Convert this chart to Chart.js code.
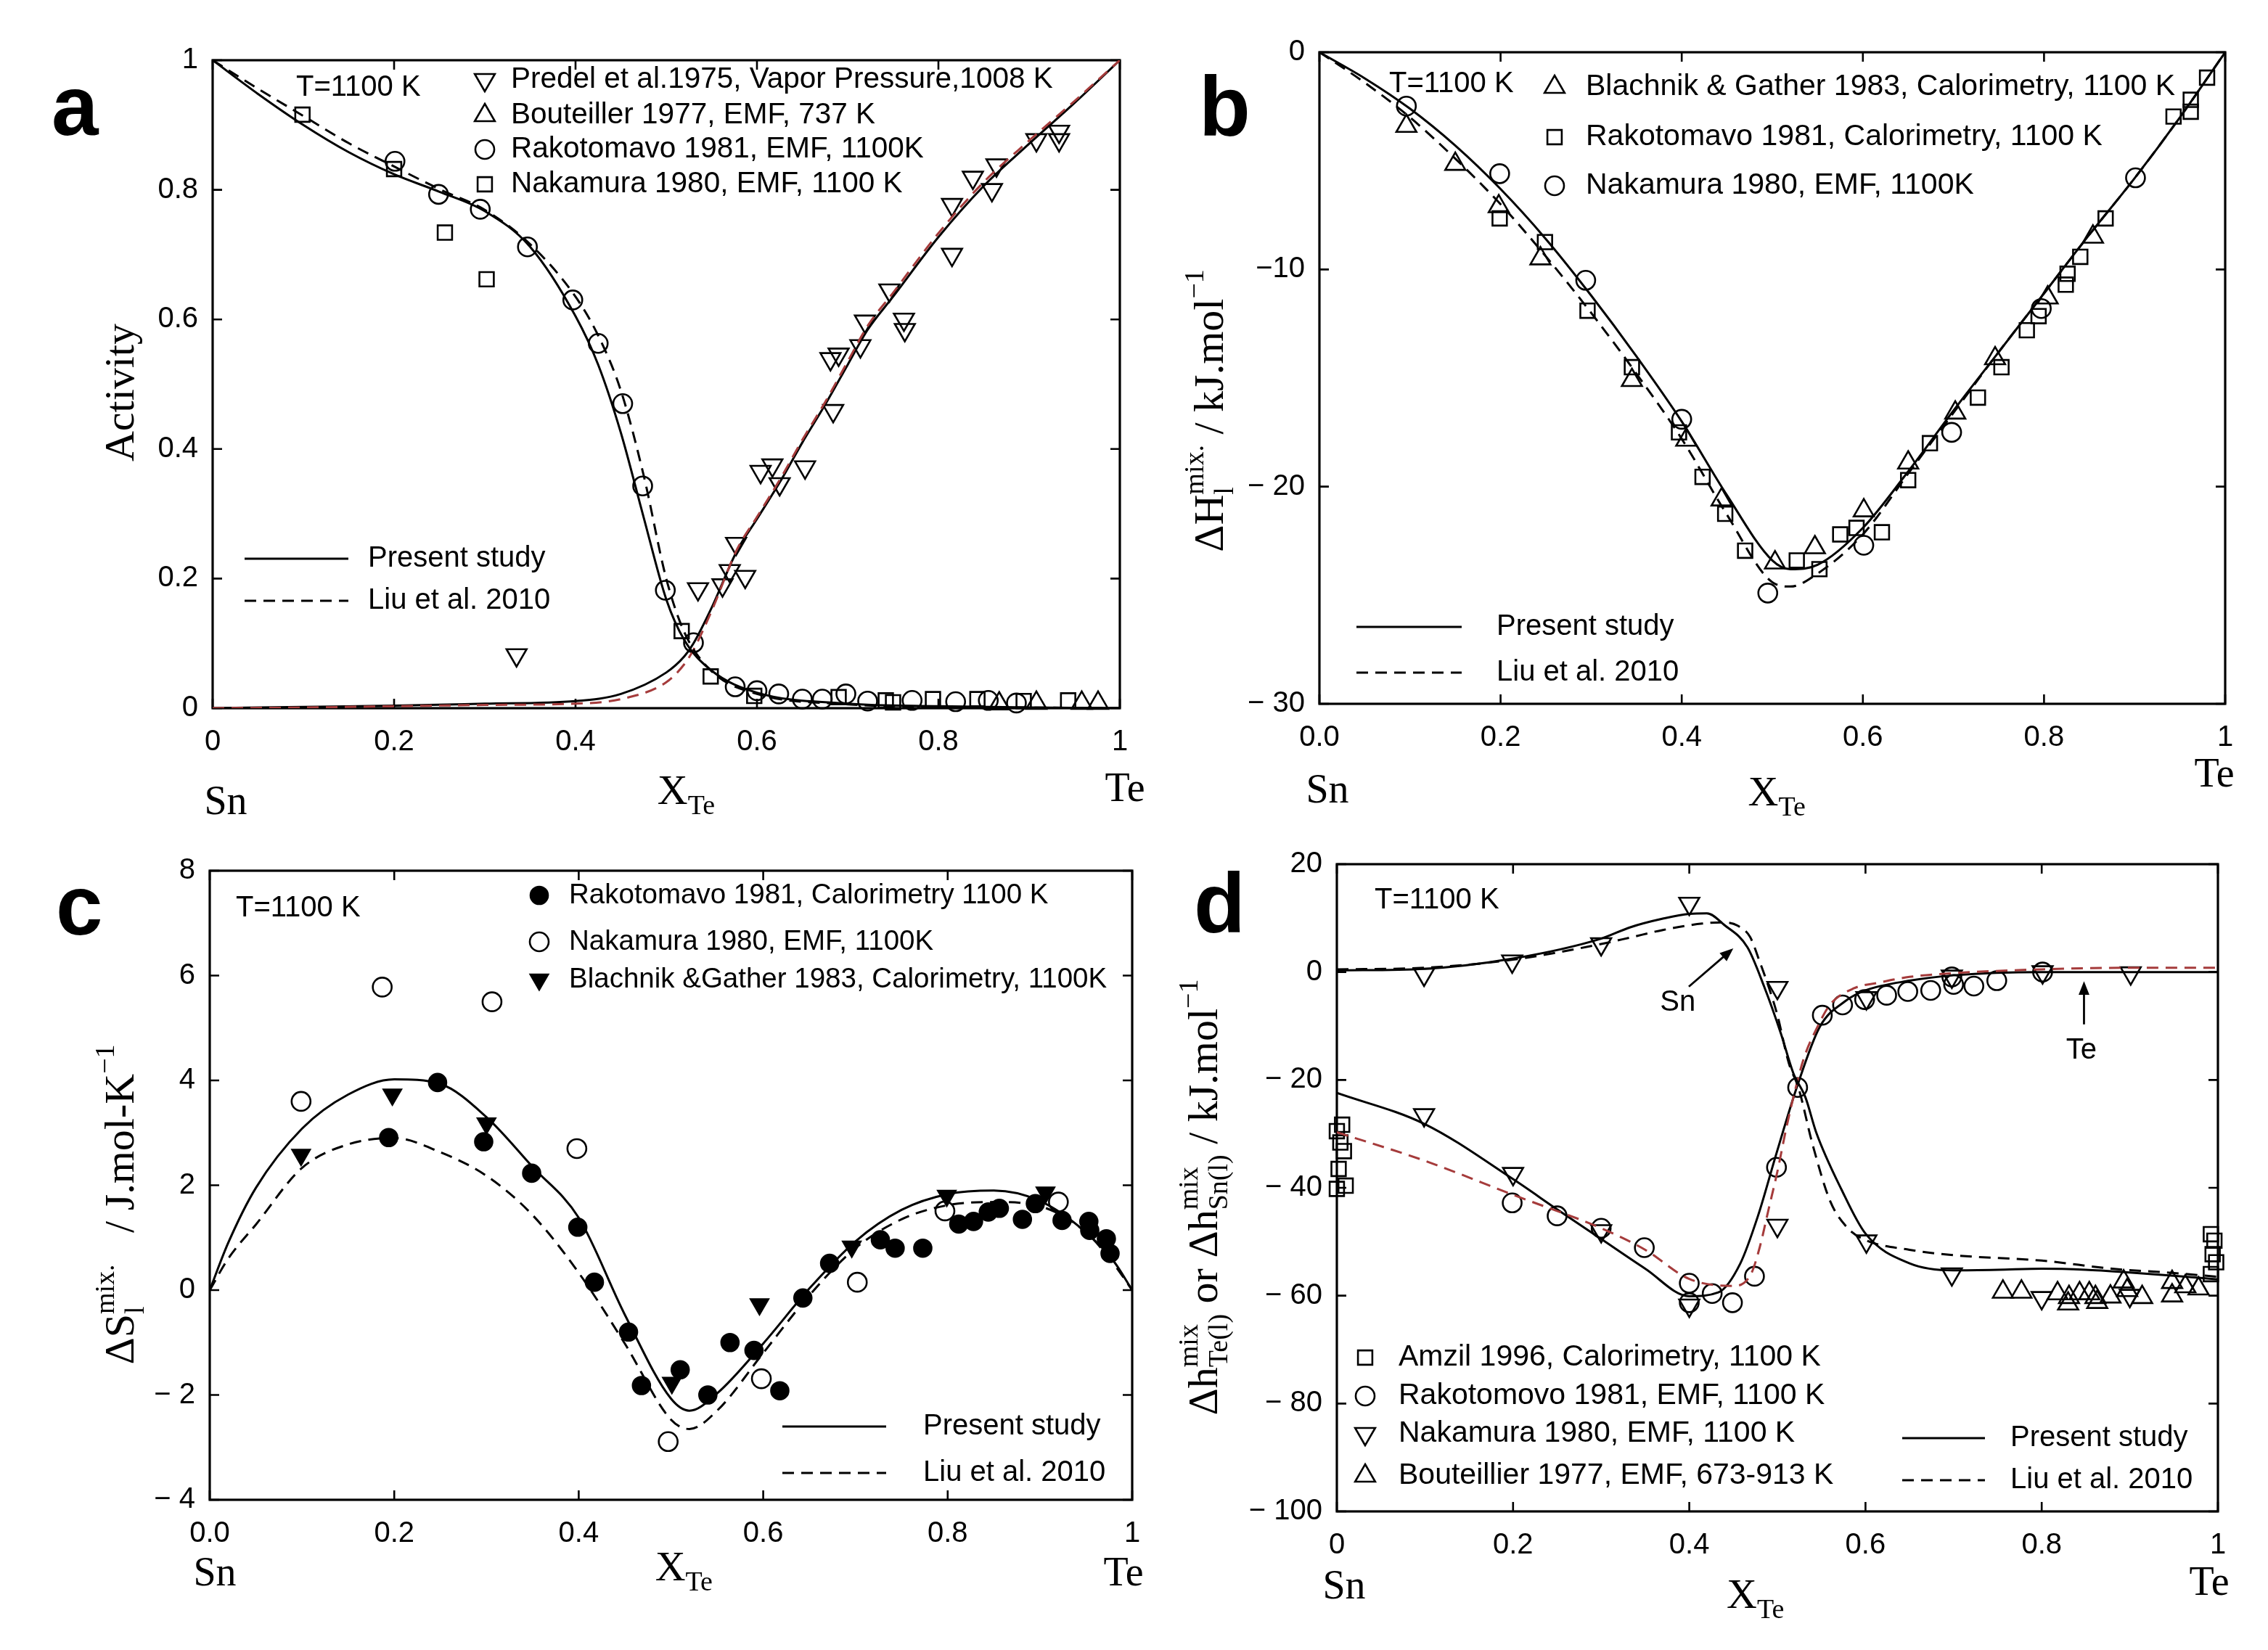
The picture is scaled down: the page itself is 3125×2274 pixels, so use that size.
<!DOCTYPE html>
<html><head><meta charset="utf-8">
<script src="https://cdn.jsdelivr.net/npm/chart.js@4.4.1/dist/chart.umd.min.js"></script>
<style>
html,body{margin:0;padding:0;background:#fff;width:3125px;height:2274px;overflow:hidden}
canvas{position:absolute}
</style></head>
<body>
<canvas id="ca"></canvas><canvas id="cc"></canvas><canvas id="cb"></canvas><canvas id="cd"></canvas>
<script>
// ---------------- Panel a : activities ----------------
const aXTicks = [0,0.2,0.4,0.6,0.8,1];
const aXTickLabels = ['0','0.2','0.4','0.6','0.8','1'];
const aYTicks = [0,0.2,0.4,0.6,0.8,1];
const aYTickLabels = ['0','0.2','0.4','0.6','0.8','1'];
const aSnX = [0,0.05,0.1,0.15,0.2,0.25,0.3,0.35,0.4,0.425,0.45,0.475,0.5,0.52,0.55,0.6,0.7,0.8,0.9,1];
const aSnPresent = [1,0.948,0.900,0.858,0.824,0.797,0.767,0.712,0.605,0.530,0.425,0.295,0.168,0.105,0.058,0.024,0.007,0.003,0.001,0];
const aSnLiu = [1,0.956,0.914,0.872,0.836,0.801,0.769,0.716,0.635,0.575,0.490,0.360,0.200,0.117,0.057,0.022,0.006,0.002,0.001,0];
const aTeX = [0,0.1,0.2,0.3,0.4,0.45,0.5,0.52,0.53,0.55,0.578,0.6,0.627,0.65,0.675,0.7,0.722,0.75,0.8,0.85,0.9,0.95,1];
const aTePresent = [0,0.002,0.004,0.007,0.011,0.022,0.055,0.08,0.10,0.155,0.243,0.292,0.353,0.41,0.468,0.53,0.584,0.635,0.727,0.806,0.871,0.934,1];
const aTeLiu = [0,0.001,0.003,0.005,0.007,0.014,0.04,0.068,0.09,0.15,0.245,0.295,0.357,0.414,0.472,0.535,0.59,0.641,0.733,0.812,0.876,0.937,1];
const aPredelX = [0.335,0.535,0.562,0.570,0.577,0.587,0.604,0.617,0.625,0.653,0.681,0.684,0.690,0.714,0.719,0.746,0.762,0.763,0.815,0.815,0.838,0.859,0.864,0.908,0.933,0.933];
const aPredelY = [0.082,0.184,0.19,0.212,0.254,0.203,0.365,0.375,0.346,0.372,0.539,0.459,0.546,0.559,0.597,0.645,0.600,0.584,0.777,0.700,0.819,0.800,0.838,0.877,0.890,0.877];
const aBoutX = [0.867,0.908,0.958,0.976];
const aBoutY = [0.007,0.008,0.008,0.008];
const aRakoX = [0.201,0.249,0.295,0.347,0.397,0.425,0.452,0.474,0.499,0.530,0.576,0.600,0.624,0.650,0.672,0.698,0.722,0.771,0.819,0.855,0.886];
const aRakoY = [0.844,0.793,0.770,0.712,0.630,0.563,0.470,0.343,0.182,0.101,0.033,0.027,0.022,0.014,0.014,0.022,0.011,0.012,0.010,0.012,0.008];
const aNakaX = [0.099,0.200,0.256,0.302,0.517,0.549,0.597,0.690,0.742,0.750,0.794,0.843,0.894,0.943];
const aNakaY = [0.916,0.832,0.734,0.662,0.119,0.049,0.019,0.017,0.012,0.009,0.014,0.014,0.011,0.012];
const aLegend = ['Predel et al.1975, Vapor Pressure,1008 K','Bouteiller 1977, EMF, 737 K','Rakotomavo 1981, EMF, 1100K','Nakamura 1980, EMF, 1100 K'];

// ---------------- Panel b : enthalpy of mixing ----------------
const bXTicks = [0,0.2,0.4,0.6,0.8,1];
const bXTickLabels = ['0.0','0.2','0.4','0.6','0.8','1'];
const bYTicks = [0,-10,-20,-30];
const bYTickLabels = ['0','\u221210','\u2212 20','\u2212 30'];
const bCurveX = [0,0.05,0.1,0.15,0.2,0.25,0.3,0.35,0.4,0.45,0.5,0.52,0.55,0.6,0.65,0.7,0.75,0.8,0.85,0.9,0.95,1];
const bPresent = [0,-1.2,-2.6,-4.3,-6.3,-8.6,-11.2,-14.0,-17.0,-20.4,-23.4,-23.8,-23.6,-21.9,-19.3,-16.5,-13.8,-11.1,-8.4,-5.8,-3.0,0];
const bLiu = [0,-1.4,-3.0,-4.9,-7.0,-9.4,-12.0,-14.8,-17.8,-21.3,-24.4,-24.6,-24.0,-22.2,-19.4,-16.6,-13.8,-11.1,-8.4,-5.8,-3.0,0];
const bBlachX = [0.096,0.150,0.198,0.244,0.345,0.405,0.444,0.503,0.547,0.601,0.650,0.702,0.746,0.804,0.854];
const bBlachY = [-3.4,-5.15,-7.1,-9.5,-15.1,-17.85,-20.6,-23.5,-22.8,-21.1,-18.9,-16.6,-14.1,-11.3,-8.5];
const bRakoX = [0.199,0.249,0.296,0.345,0.397,0.423,0.448,0.470,0.527,0.552,0.575,0.593,0.621,0.650,0.674,0.727,0.753,0.781,0.794,0.824,0.826,0.840,0.868,0.943,0.962,0.962,0.980];
const bRakoY = [-7.65,-8.74,-11.9,-14.5,-17.5,-19.55,-21.25,-22.95,-23.4,-23.8,-22.2,-21.9,-22.1,-19.7,-18.0,-15.9,-14.5,-12.8,-12.15,-10.7,-10.2,-9.42,-7.65,-2.96,-2.74,-2.19,-1.17];
const bNakaX = [0.096,0.199,0.294,0.400,0.495,0.601,0.698,0.797,0.901];
const bNakaY = [-2.48,-5.59,-10.5,-16.9,-24.9,-22.7,-17.5,-11.8,-5.78];
const bLegend = ['Blachnik & Gather 1983, Calorimetry, 1100 K','Rakotomavo 1981, Calorimetry, 1100 K','Nakamura 1980, EMF, 1100K'];

// ---------------- Panel c : entropy of mixing ----------------
const cXTicks = [0,0.2,0.4,0.6,0.8,1];
const cXTickLabels = ['0.0','0.2','0.4','0.6','0.8','1'];
const cYTicks = [8,6,4,2,0,-2,-4];
const cYTickLabels = ['8','6','4','2','0','\u2212 2','\u2212 4'];
const cCurveX = [0,0.02,0.05,0.1,0.15,0.2,0.25,0.3,0.35,0.4,0.45,0.5,0.52,0.55,0.6,0.65,0.7,0.75,0.8,0.85,0.9,0.95,0.98,1];
const cPresent = [0,0.9,1.95,3.08,3.73,4.02,3.93,3.3,2.35,1.38,-0.47,-2.07,-2.3,-1.97,-1.02,0.03,0.93,1.53,1.83,1.9,1.7,1.1,0.55,0];
const cLiu = [0,0.6,1.25,2.33,2.78,2.9,2.63,2.18,1.43,0.33,-1.02,-2.47,-2.65,-2.3,-1.2,-0.1,0.8,1.35,1.62,1.68,1.6,1.1,0.5,0];
const cRakoX = [0.194,0.247,0.297,0.349,0.399,0.417,0.454,0.468,0.510,0.540,0.564,0.590,0.618,0.643,0.672,0.727,0.743,0.773,0.812,0.828,0.844,0.856,0.881,0.895,0.924,0.953,0.954,0.972,0.976];
const cRakoY = [2.91,3.96,2.83,2.23,1.20,0.15,-0.80,-1.82,-1.52,-2.00,-1.00,-1.15,-1.92,-0.15,0.51,0.96,0.80,0.80,1.26,1.31,1.49,1.56,1.35,1.65,1.33,1.31,1.14,0.98,0.70];
const cNakaX = [0.099,0.187,0.306,0.398,0.497,0.598,0.702,0.797,0.920];
const cNakaY = [3.60,5.78,5.50,2.70,-2.89,-1.69,0.15,1.51,1.68];
const cBlachX = [0.099,0.198,0.300,0.501,0.596,0.696,0.799,0.906];
const cBlachY = [2.58,3.73,3.18,-1.77,-0.27,0.83,1.80,1.86];
const cLegend = ['Rakotomavo 1981, Calorimetry 1100 K','Nakamura 1980, EMF, 1100K','Blachnik &Gather 1983, Calorimetry, 1100K'];

// ---------------- Panel d : partial enthalpies ----------------
const dXTicks = [0,0.2,0.4,0.6,0.8,1];
const dXTickLabels = ['0','0.2','0.4','0.6','0.8','1'];
const dYTicks = [20,0,-20,-40,-60,-80,-100];
const dYTickLabels = ['20','0','\u2212 20','\u2212 40','\u2212 60','\u2212 80','\u2212 100'];
const dSnX = [0,0.1,0.2,0.3,0.333,0.37,0.4,0.42,0.44,0.466,0.485,0.504,0.518,0.532,0.544,0.573,0.6,0.65,0.7,0.75,0.8,0.85,0.9,0.95,1];
const dSnPresent = [0.3,0.6,2.5,6.2,8.3,9.9,10.8,10.9,8.7,4.6,-2.7,-11.4,-18.7,-23.3,-29.7,-40.4,-48.5,-54,-55.3,-55.2,-55,-55.2,-55.7,-56.3,-57];
const dSnLiuX = [0,0.1,0.2,0.3,0.333,0.37,0.415,0.44,0.455,0.469,0.48,0.49,0.5,0.513,0.524,0.54,0.56,0.58,0.6,0.65,0.7,0.8,0.88,0.95,1];
const dSnLiu = [0.5,0.8,2.3,5.2,6.4,7.8,9.0,9.2,8.6,6.5,1.9,-2.7,-8,-16.9,-21.5,-32,-42.5,-47.5,-49.7,-51.5,-52.5,-53.5,-55,-55.8,-56.5];
const dTeX = [0,0.1,0.2,0.25,0.3,0.35,0.4,0.433,0.458,0.478,0.499,0.523,0.548,0.577,0.6,0.65,0.7,0.8,0.9,1];
const dTePresent = [-22.4,-28.2,-38.4,-44,-49.5,-55,-60.1,-59.4,-54,-45.2,-33.6,-20.9,-10.2,-5.4,-3.4,-1.6,-0.6,0,0,0];
const dTeLiuX = [0,0.1,0.2,0.3,0.35,0.4,0.45,0.47,0.48,0.49,0.5,0.51,0.52,0.53,0.546,0.56,0.587,0.614,0.65,0.7,0.8,0.9,1];
const dTeLiu = [-29.7,-35,-41.3,-47.5,-51.5,-56.9,-58.2,-56,-51,-44,-37,-29,-22,-16,-10,-6,-3,-2,-0.9,-0.2,0.5,0.8,0.8];
const dAmzilX = [0.0,0.006,0.004,0.008,0.002,0.0,0.01,0.992,0.996,0.994,0.998,0.992];
const dAmzilY = [-29.5,-28.3,-31.6,-33.2,-36.5,-40.2,-39.6,-48.6,-49.8,-52.3,-53.8,-56.0];
const dRakoX = [0.199,0.25,0.3,0.349,0.4,0.4,0.426,0.449,0.474,0.499,0.523,0.551,0.574,0.599,0.624,0.648,0.674,0.698,0.70,0.723,0.749,0.801];
const dRakoY = [-42.8,-45.2,-47.5,-51.1,-57.7,-61.3,-59.6,-61.3,-56.4,-36.2,-21.4,-8.0,-6.1,-5.1,-4.3,-3.6,-3.4,-0.9,-2.3,-2.6,-1.6,0];
const dNakaX = [0.099,0.199,0.3,0.4,0.5,0.601,0.698,0.801,0.901,0.099,0.2,0.3,0.4,0.5,0.601,0.698,0.8,0.9];
const dNakaY = [-0.45,2.0,5.2,12.7,-2.9,-4.8,-0.8,0.0,-0.2,-26.5,-37.4,-48,-61.8,-47,-49.9,-56,-60.4,-60.0];
const dBoutX = [0.756,0.777,0.818,0.831,0.830,0.843,0.854,0.861,0.863,0.878,0.893,0.897,0.914,0.948,0.948,0.963,0.978];
const dBoutY = [-59.3,-59.3,-59.6,-60.3,-61.5,-59.6,-59.6,-60.3,-61.2,-60.2,-57.4,-59.0,-60.3,-57.5,-60.0,-58.3,-58.7];
const dLegend = ['Amzil 1996, Calorimetry, 1100 K','Rakotomovo 1981, EMF, 1100 K','Nakamura 1980, EMF, 1100 K','Bouteillier 1977, EMF, 673-913 K'];

const lineLegend = ['Present study','Liu et al. 2010'];
const tempLabel = 'T=1100 K';

// ---------------- styling helpers ----------------
const SANS = '"Liberation Sans", Arial, sans-serif';
const SERIF = '"Liberation Serif", "Times New Roman", serif';
const RED = '#a53b3b';
const DASH = [16,10];
const M = {
  tdown:{pointStyle:'triangle',rotation:180,radius:16,fill:false},
  tup:{pointStyle:'triangle',rotation:0,radius:16,fill:false},
  circ:{pointStyle:'circle',rotation:0,radius:13,fill:false},
  sq:{pointStyle:'rect',rotation:0,radius:14,fill:false},
  fcirc:{pointStyle:'circle',rotation:0,radius:12,fill:true},
  ftdown:{pointStyle:'triangle',rotation:180,radius:14,fill:true}
};
const pts = (xs,ys) => xs.map((x,i)=>({x:x,y:ys[i]}));
function lineDs(xs,ys,dashed,color){
  return {type:'scatter',data:pts(xs,ys),showLine:true,pointRadius:0,borderColor:color||'#000',
    borderWidth:3,borderDash:dashed?DASH:[],cubicInterpolationMode:'monotone',fill:false};
}
function ptDs(xs,ys,m){
  return {type:'scatter',data:pts(xs,ys),showLine:false,pointStyle:m.pointStyle,rotation:m.rotation,
    pointRadius:m.radius,pointBorderWidth:2.6,pointBorderColor:'#000',
    pointBackgroundColor:m.fill?'#000':'rgba(0,0,0,0)',clip:false};
}
function drawMarker(ctx,m,x,y){
  ctx.save(); ctx.strokeStyle='#000'; ctx.fillStyle=m.fill?'#000':'rgba(0,0,0,0)'; ctx.lineWidth=2.6;
  Chart.helpers.drawPoint(ctx,{pointStyle:m.pointStyle,rotation:m.rotation,radius:m.radius,borderWidth:2.6},x,y);
  ctx.restore();
}
function rich(ctx,parts,x,y,rotate){
  ctx.save(); ctx.translate(x,y); if(rotate) ctx.rotate(-Math.PI/2);
  ctx.textAlign='left'; ctx.textBaseline='alphabetic'; ctx.fillStyle='#000';
  const w = parts.map(p => Math.max.apply(null,(p.stack||[p]).map(s=>{ctx.font=s.size+'px '+SERIF; return ctx.measureText(s.t).width;})));
  let cx = -w.reduce((a,b)=>a+b,0)/2;
  parts.forEach((p,i)=>{ (p.stack||[p]).forEach(s=>{ctx.font=s.size+'px '+SERIF; ctx.fillText(s.t,cx,s.dy||0);}); cx+=w[i]; });
  ctx.restore();
}
function arrow(ctx,x1,y1,x2,y2){
  const a=Math.atan2(y2-y1,x2-x1), h=20, s=0.38;
  ctx.save(); ctx.strokeStyle='#000'; ctx.fillStyle='#000'; ctx.lineWidth=2.8;
  ctx.beginPath(); ctx.moveTo(x1,y1); ctx.lineTo(x2-Math.cos(a)*h*0.8,y2-Math.sin(a)*h*0.8); ctx.stroke();
  ctx.beginPath(); ctx.moveTo(x2,y2);
  ctx.lineTo(x2-h*Math.cos(a-s),y2-h*Math.sin(a-s)); ctx.lineTo(x2-h*Math.cos(a+s),y2-h*Math.sin(a+s));
  ctx.closePath(); ctx.fill(); ctx.restore();
}
const SUP = 38, MAIN = 58;
const xTitleParts = [{t:'X',size:58},{t:'Te',size:38,dy:14}];

function makeDeco(sp){
  return {
    id:'deco_'+sp.id,
    beforeDatasetsDraw(chart){
      const ctx=chart.ctx, a=chart.chartArea, xs=chart.scales.x, ys=chart.scales.y, TL=13;
      ctx.save(); ctx.strokeStyle='#000'; ctx.lineWidth=3.2;
      ctx.strokeRect(a.left,a.top,a.right-a.left,a.bottom-a.top);
      ctx.lineWidth=2.6; ctx.beginPath();
      sp.xTicks.forEach(v=>{const p=xs.getPixelForValue(v); ctx.moveTo(p,a.bottom); ctx.lineTo(p,a.bottom-TL); ctx.moveTo(p,a.top); ctx.lineTo(p,a.top+TL);});
      sp.yTicks.forEach(v=>{const p=ys.getPixelForValue(v); ctx.moveTo(a.left,p); ctx.lineTo(a.left+TL,p); ctx.moveTo(a.right,p); ctx.lineTo(a.right-TL,p);});
      ctx.stroke(); ctx.restore();
    },
    afterDraw(chart){
      const ctx=chart.ctx, a=chart.chartArea, xs=chart.scales.x, ys=chart.scales.y;
      const ox=sp.cx, oy=sp.cy, LF=sp.legendFont+'px '+SANS;
      ctx.save(); ctx.fillStyle='#000';
      ctx.font='40px '+SANS; ctx.textAlign='center'; ctx.textBaseline='middle';
      sp.xTicks.forEach((v,i)=>ctx.fillText(sp.xTickLabels[i],xs.getPixelForValue(v),a.bottom+47));
      ctx.textAlign='right';
      sp.yTicks.forEach((v,i)=>ctx.fillText(sp.yTickLabels[i],a.left-20,ys.getPixelForValue(v)));
      ctx.font='bold 116px '+SANS; ctx.textAlign='left'; ctx.textBaseline='alphabetic';
      ctx.fillText(sp.letter.t,sp.letter.x-ox,sp.letter.y-oy);
      ctx.font='40px '+SANS; ctx.textBaseline='middle';
      ctx.fillText(tempLabel,sp.temp.x-ox,sp.temp.y-oy);
      sp.mleg.items.forEach((it,i)=>{
        const y=sp.mleg.rows[i]-oy;
        drawMarker(ctx,it.m,sp.mleg.mx-ox,y);
        ctx.fillStyle='#000'; ctx.font=LF; ctx.textAlign='left'; ctx.textBaseline='middle';
        ctx.fillText(it.t,sp.mleg.tx-ox,y);
      });
      const L=sp.lleg;
      ctx.strokeStyle='#000'; ctx.lineWidth=3;
      [L.y1,L.y2].forEach((yy,i)=>{
        ctx.setLineDash(i?DASH:[]); ctx.beginPath(); ctx.moveTo(L.x1-ox,yy-oy); ctx.lineTo(L.x2-ox,yy-oy); ctx.stroke();
        ctx.setLineDash([]); ctx.font='40px '+SANS; ctx.textAlign='left'; ctx.textBaseline='middle';
        ctx.fillText(lineLegend[i],L.tx-ox,yy-oy);
      });
      rich(ctx,sp.ytitle.parts,sp.ytitle.x-ox,sp.ytitle.y-oy,true);
      rich(ctx,xTitleParts,xs.getPixelForValue(sp.xtitle.v),sp.xtitle.y-oy,false);
      ctx.font='56px '+SERIF; ctx.textAlign='center'; ctx.textBaseline='middle'; ctx.fillStyle='#000';
      ctx.fillText('Sn',sp.sn.x-ox,sp.sn.y-oy);
      ctx.fillText('Te',sp.te.x-ox,sp.te.y-oy);
      if(sp.extra) sp.extra(ctx,xs,ys);
      ctx.restore();
    }
  };
}

function makePanel(sp){
  const cv=document.getElementById(sp.id);
  cv.width=sp.cw; cv.height=sp.ch;
  cv.style.left=sp.cx+'px'; cv.style.top=sp.cy+'px'; cv.style.width=sp.cw+'px'; cv.style.height=sp.ch+'px';
  new Chart(cv.getContext('2d'),{
    type:'scatter',
    data:{datasets:sp.datasets},
    options:{
      responsive:false, animation:false, devicePixelRatio:1, events:[],
      layout:{padding:{left:sp.L-sp.cx,right:sp.cx+sp.cw-sp.R,top:sp.T-sp.cy,bottom:sp.cy+sp.ch-sp.B}},
      scales:{
        x:{type:'linear',min:sp.xMin,max:sp.xMax,display:false},
        y:{type:'linear',min:sp.yMin,max:sp.yMax,display:false}
      },
      plugins:{legend:{display:false},tooltip:{enabled:false}}
    },
    plugins:[makeDeco(sp)]
  });
}

// ---------------- panels ----------------
makePanel({
  id:'ca', cx:0, cy:0, cw:1630, ch:1137, L:293, R:1543, T:83, B:976, legendFont:40.5,
  xMin:0,xMax:1,yMin:0,yMax:1, xTicks:aXTicks,xTickLabels:aXTickLabels,yTicks:aYTicks,yTickLabels:aYTickLabels,
  datasets:[
    lineDs(aSnX,aSnPresent,false), lineDs(aSnX,aSnLiu,true),
    lineDs(aTeX,aTeLiu,true,RED), lineDs(aTeX,aTePresent,false),
    ptDs(aPredelX,aPredelY,M.tdown), ptDs(aBoutX,aBoutY,M.tup), ptDs(aRakoX,aRakoY,M.circ), ptDs(aNakaX,aNakaY,M.sq)
  ],
  letter:{t:'a',x:71,y:186}, temp:{x:408,y:121},
  mleg:{mx:668,tx:704,rows:[110,159,206,254],items:[{m:M.tdown,t:aLegend[0]},{m:M.tup,t:aLegend[1]},{m:M.circ,t:aLegend[2]},{m:M.sq,t:aLegend[3]}]},
  lleg:{x1:337,x2:480,tx:507,y1:770,y2:828},
  ytitle:{x:184,y:541,parts:[{t:'Activity',size:MAIN}]},
  xtitle:{v:0.522,y:1108}, sn:{x:311,y:1107}, te:{x:1550,y:1089}
});

makePanel({
  id:'cb', cx:1562, cy:0, cw:1563, ch:1137, L:1818, R:3066, T:72, B:970, legendFont:41,
  xMin:0,xMax:1,yMin:-30,yMax:0, xTicks:bXTicks,xTickLabels:bXTickLabels,yTicks:bYTicks,yTickLabels:bYTickLabels,
  datasets:[
    lineDs(bCurveX,bPresent,false), lineDs(bCurveX,bLiu,true),
    ptDs(bBlachX,bBlachY,M.tup), ptDs(bRakoX,bRakoY,M.sq), ptDs(bNakaX,bNakaY,M.circ)
  ],
  letter:{t:'b',x:1652,y:187}, temp:{x:1914,y:116},
  mleg:{mx:2142,tx:2185,rows:[120,189,256],items:[{m:M.tup,t:bLegend[0]},{m:M.sq,t:bLegend[1]},{m:M.circ,t:bLegend[2]}]},
  lleg:{x1:1869,x2:2014,tx:2062,y1:864,y2:927},
  ytitle:{x:1685,y:566,parts:[{t:'\u0394H',size:MAIN},{stack:[{t:'mix.',size:SUP,dy:-27},{t:'l',size:SUP,dy:14}]},{t:' / kJ.mol',size:MAIN},{t:'\u22121',size:SUP,dy:-27}]},
  xtitle:{v:0.505,y:1110}, sn:{x:1829,y:1091}, te:{x:3051,y:1069}
});

makePanel({
  id:'cc', cx:0, cy:1137, cw:1630, ch:1137, L:289, R:1560, T:1200, B:2067, legendFont:38.5,
  xMin:0,xMax:1,yMin:-4,yMax:8, xTicks:cXTicks,xTickLabels:cXTickLabels,yTicks:cYTicks,yTickLabels:cYTickLabels,
  datasets:[
    lineDs(cCurveX,cPresent,false), lineDs(cCurveX,cLiu,true),
    ptDs(cRakoX,cRakoY,M.fcirc), ptDs(cNakaX,cNakaY,M.circ), ptDs(cBlachX,cBlachY,M.ftdown)
  ],
  letter:{t:'c',x:77,y:1288}, temp:{x:325,y:1252},
  mleg:{mx:743,tx:784,rows:[1234,1298,1350],items:[{m:M.fcirc,t:cLegend[0]},{m:M.circ,t:cLegend[1]},{m:M.ftdown,t:cLegend[2]}]},
  lleg:{x1:1078,x2:1221,tx:1272,y1:1966,y2:2030},
  ytitle:{x:184,y:1660,parts:[{t:'\u0394S',size:MAIN},{stack:[{t:'mix.',size:SUP,dy:-27},{t:'l',size:SUP,dy:14}]},{t:'   / J.mol-K',size:MAIN},{t:'\u22121',size:SUP,dy:-27}]},
  xtitle:{v:0.514,y:2178}, sn:{x:296,y:2170}, te:{x:1548,y:2170}
});

makePanel({
  id:'cd', cx:1562, cy:1137, cw:1563, ch:1137, L:1842, R:3056, T:1191, B:2083, legendFont:41,
  xMin:0,xMax:1,yMin:-100,yMax:20, xTicks:dXTicks,xTickLabels:dXTickLabels,yTicks:dYTicks,yTickLabels:dYTickLabels,
  datasets:[
    lineDs(dSnX,dSnPresent,false), lineDs(dSnLiuX,dSnLiu,true),
    lineDs(dTeLiuX,dTeLiu,true,RED), lineDs(dTeX,dTePresent,false),
    ptDs(dAmzilX,dAmzilY,M.sq), ptDs(dRakoX,dRakoY,M.circ), ptDs(dNakaX,dNakaY,M.tdown), ptDs(dBoutX,dBoutY,M.tup)
  ],
  letter:{t:'d',x:1645,y:1285}, temp:{x:1894,y:1241},
  mleg:{mx:1881,tx:1927,rows:[1871,1924,1976,2034],items:[{m:M.sq,t:dLegend[0]},{m:M.circ,t:dLegend[1]},{m:M.tdown,t:dLegend[2]},{m:M.tup,t:dLegend[3]}]},
  lleg:{x1:2621,x2:2735,tx:2770,y1:1982,y2:2040},
  ytitle:{x:1677,y:1650,parts:[{t:'\u0394h',size:MAIN},{stack:[{t:'mix',size:SUP,dy:-27},{t:'Te(l)',size:SUP,dy:14}]},{t:' or \u0394h',size:MAIN},{stack:[{t:'mix',size:SUP,dy:-27},{t:'Sn(l)',size:SUP,dy:14}]},{t:' / kJ.mol',size:MAIN},{t:'\u22121',size:SUP,dy:-27}]},
  xtitle:{v:0.475,y:2216}, sn:{x:1852,y:2188}, te:{x:3044,y:2183},
  extra:function(ctx,xs,ys){
    ctx.font='40px '+SANS; ctx.textAlign='center'; ctx.textBaseline='middle'; ctx.fillStyle='#000';
    ctx.fillText('Sn',xs.getPixelForValue(0.387),ys.getPixelForValue(-5.7));
    arrow(ctx,xs.getPixelForValue(0.3995),ys.getPixelForValue(-2.7),xs.getPixelForValue(0.45),ys.getPixelForValue(4.4));
    ctx.fillText('Te',xs.getPixelForValue(0.845),ys.getPixelForValue(-14.6));
    arrow(ctx,xs.getPixelForValue(0.848),ys.getPixelForValue(-9.7),xs.getPixelForValue(0.848),ys.getPixelForValue(-1.7));
  }
});
</script>
</body></html>
